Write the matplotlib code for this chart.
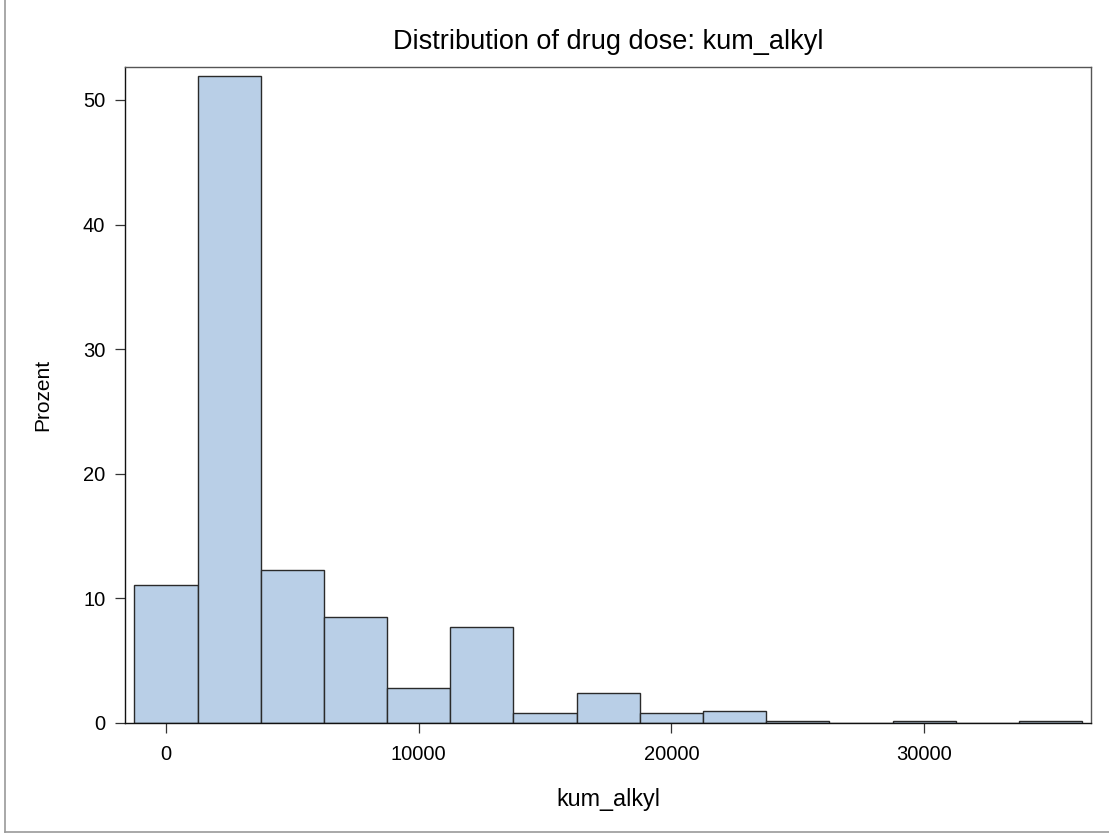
import numpy as np
import matplotlib
matplotlib.use('Agg')
import matplotlib.pyplot as plt
from matplotlib.lines import Line2D

# histogram of kum_alkyl, bin midpoints and percent per bin
bin_mids = [0, 2500, 5000, 7500, 10000, 12500, 15000, 17500,
            20000, 22500, 25000, 27500, 30000, 32500, 35000]
percent  = [11.1, 51.95, 12.3, 8.5, 2.8, 7.7, 0.77, 2.4,
            0.77, 0.93, 0.2, 0.0, 0.13, 0.0, 0.2]
bin_width = 2500
x_ticks   = [0, 10000, 20000, 30000]
y_ticks   = [0, 10, 20, 30, 40, 50]

plt.rcParams['font.family'] = ['Liberation Sans', 'DejaVu Sans']

fig = plt.figure(figsize=(11.09, 8.34), dpi=100)
ax  = fig.add_axes([0.1127, 0.1331, 0.9838-0.1127, 0.9193-0.1331])

ax.bar(bin_mids, percent, width=bin_width, align='center',
       color='#b9cfe7', edgecolor='#2a2a2a', linewidth=1.0, zorder=2)

ax.set_xlim(-1622, 36605)
ax.set_ylim(0, 52.62)
ax.set_xticks(x_ticks)
ax.set_yticks(y_ticks)
ax.tick_params(direction='out', length=7.2, width=0.9, color='#333333',
               labelsize=14.5, pad=7)
ax.tick_params(axis='x', pad=9)
for s in ax.spines.values():
    s.set_color('#555555')
    s.set_linewidth(1.0)
ax.spines['bottom'].set_color('#111111')
ax.spines['left'].set_color('#111111')

ax.set_title('Distribution of drug dose: kum_alkyl', fontsize=19.5, pad=13)
ax.set_xlabel('kum_alkyl', fontsize=16.8, labelpad=17)
ax.set_ylabel('Prozent', fontsize=15, labelpad=22)

# thin grey frame lines along left and bottom of the figure
fig.add_artist(Line2D([5/1109, 5/1109], [0.002, 1.0], transform=fig.transFigure,
                      color='#999999', linewidth=1.2))
fig.add_artist(Line2D([5/1109, 1.0], [0.002, 0.002], transform=fig.transFigure,
                      color='#999999', linewidth=1.2))

fig.savefig('out.png', dpi=100)
